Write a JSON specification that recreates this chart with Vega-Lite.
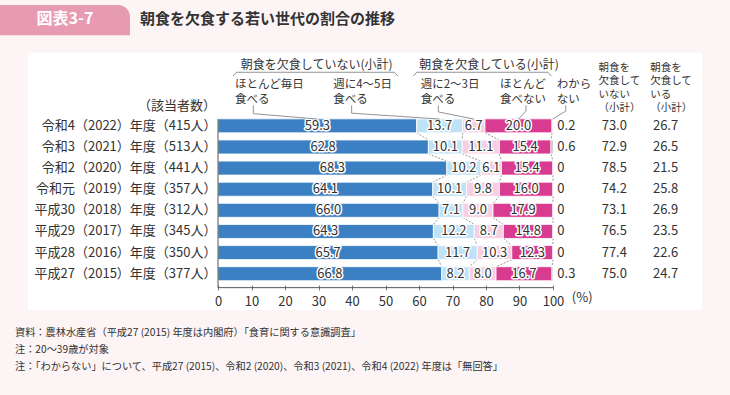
{
  "$schema": "https://vega.github.io/schema/vega-lite/v6.json",
  "width": 730,
  "height": 395,
  "autosize": "none",
  "padding": 0,
  "background": "#fdf4f6",
  "config": {
    "view": {"stroke": null},
    "font": "Noto Sans CJK JP",
    "axisY": {"disable": true}
  },
  "data": {"values": [{}]},
  "datasets": {
    "bars": [
      {"year": "令和4（2022）年度（415人）", "row": 1, "cat": "ほとんど毎日食べる", "k": 1, "value": 59.3},
      {"year": "令和4（2022）年度（415人）", "row": 1, "cat": "週に4～5日食べる", "k": 2, "value": 13.7},
      {"year": "令和4（2022）年度（415人）", "row": 1, "cat": "週に2～3日食べる", "k": 3, "value": 6.7},
      {"year": "令和4（2022）年度（415人）", "row": 1, "cat": "ほとんど食べない", "k": 4, "value": 20.0},
      {"year": "令和4（2022）年度（415人）", "row": 1, "cat": "わからない", "k": 5, "value": 0.2},
      {"year": "令和3（2021）年度（513人）", "row": 2, "cat": "ほとんど毎日食べる", "k": 1, "value": 62.8},
      {"year": "令和3（2021）年度（513人）", "row": 2, "cat": "週に4～5日食べる", "k": 2, "value": 10.1},
      {"year": "令和3（2021）年度（513人）", "row": 2, "cat": "週に2～3日食べる", "k": 3, "value": 11.1},
      {"year": "令和3（2021）年度（513人）", "row": 2, "cat": "ほとんど食べない", "k": 4, "value": 15.4},
      {"year": "令和3（2021）年度（513人）", "row": 2, "cat": "わからない", "k": 5, "value": 0.6},
      {"year": "令和2（2020）年度（441人）", "row": 3, "cat": "ほとんど毎日食べる", "k": 1, "value": 68.3},
      {"year": "令和2（2020）年度（441人）", "row": 3, "cat": "週に4～5日食べる", "k": 2, "value": 10.2},
      {"year": "令和2（2020）年度（441人）", "row": 3, "cat": "週に2～3日食べる", "k": 3, "value": 6.1},
      {"year": "令和2（2020）年度（441人）", "row": 3, "cat": "ほとんど食べない", "k": 4, "value": 15.4},
      {"year": "令和2（2020）年度（441人）", "row": 3, "cat": "わからない", "k": 5, "value": 0},
      {"year": "令和元（2019）年度（357人）", "row": 4, "cat": "ほとんど毎日食べる", "k": 1, "value": 64.1},
      {"year": "令和元（2019）年度（357人）", "row": 4, "cat": "週に4～5日食べる", "k": 2, "value": 10.1},
      {"year": "令和元（2019）年度（357人）", "row": 4, "cat": "週に2～3日食べる", "k": 3, "value": 9.8},
      {"year": "令和元（2019）年度（357人）", "row": 4, "cat": "ほとんど食べない", "k": 4, "value": 16.0},
      {"year": "令和元（2019）年度（357人）", "row": 4, "cat": "わからない", "k": 5, "value": 0},
      {"year": "平成30（2018）年度（312人）", "row": 5, "cat": "ほとんど毎日食べる", "k": 1, "value": 66.0},
      {"year": "平成30（2018）年度（312人）", "row": 5, "cat": "週に4～5日食べる", "k": 2, "value": 7.1},
      {"year": "平成30（2018）年度（312人）", "row": 5, "cat": "週に2～3日食べる", "k": 3, "value": 9.0},
      {"year": "平成30（2018）年度（312人）", "row": 5, "cat": "ほとんど食べない", "k": 4, "value": 17.9},
      {"year": "平成30（2018）年度（312人）", "row": 5, "cat": "わからない", "k": 5, "value": 0},
      {"year": "平成29（2017）年度（345人）", "row": 6, "cat": "ほとんど毎日食べる", "k": 1, "value": 64.3},
      {"year": "平成29（2017）年度（345人）", "row": 6, "cat": "週に4～5日食べる", "k": 2, "value": 12.2},
      {"year": "平成29（2017）年度（345人）", "row": 6, "cat": "週に2～3日食べる", "k": 3, "value": 8.7},
      {"year": "平成29（2017）年度（345人）", "row": 6, "cat": "ほとんど食べない", "k": 4, "value": 14.8},
      {"year": "平成29（2017）年度（345人）", "row": 6, "cat": "わからない", "k": 5, "value": 0},
      {"year": "平成28（2016）年度（350人）", "row": 7, "cat": "ほとんど毎日食べる", "k": 1, "value": 65.7},
      {"year": "平成28（2016）年度（350人）", "row": 7, "cat": "週に4～5日食べる", "k": 2, "value": 11.7},
      {"year": "平成28（2016）年度（350人）", "row": 7, "cat": "週に2～3日食べる", "k": 3, "value": 10.3},
      {"year": "平成28（2016）年度（350人）", "row": 7, "cat": "ほとんど食べない", "k": 4, "value": 12.3},
      {"year": "平成28（2016）年度（350人）", "row": 7, "cat": "わからない", "k": 5, "value": 0},
      {"year": "平成27（2015）年度（377人）", "row": 8, "cat": "ほとんど毎日食べる", "k": 1, "value": 66.8},
      {"year": "平成27（2015）年度（377人）", "row": 8, "cat": "週に4～5日食べる", "k": 2, "value": 8.2},
      {"year": "平成27（2015）年度（377人）", "row": 8, "cat": "週に2～3日食べる", "k": 3, "value": 8.0},
      {"year": "平成27（2015）年度（377人）", "row": 8, "cat": "ほとんど食べない", "k": 4, "value": 16.7},
      {"year": "平成27（2015）年度（377人）", "row": 8, "cat": "わからない", "k": 5, "value": 0.3}
    ],
    "rows": [
      {"row": 1, "year": "令和4（2022）年度（415人）", "notSkip": 73.0, "skip": 26.7},
      {"row": 2, "year": "令和3（2021）年度（513人）", "notSkip": 72.9, "skip": 26.5},
      {"row": 3, "year": "令和2（2020）年度（441人）", "notSkip": 78.5, "skip": 21.5},
      {"row": 4, "year": "令和元（2019）年度（357人）", "notSkip": 74.2, "skip": 25.8},
      {"row": 5, "year": "平成30（2018）年度（312人）", "notSkip": 73.1, "skip": 26.9},
      {"row": 6, "year": "平成29（2017）年度（345人）", "notSkip": 76.5, "skip": 23.5},
      {"row": 7, "year": "平成28（2016）年度（350人）", "notSkip": 77.4, "skip": 22.6},
      {"row": 8, "year": "平成27（2015）年度（377人）", "notSkip": 75.0, "skip": 24.7}
    ]
  },
  "layer": [
    {
      "mark": {"type": "rect", "color": "white"},
      "encoding": {
        "x": {"datum": -56.72, "type": "quantitative"}, "x2": {"datum": 144.48},
        "y": {"datum": -2.461, "type": "quantitative"}, "y2": {"datum": 9.722}
      }
    },
    {
      "mark": {"type": "rect", "color": "#e79bb3", "cornerRadiusTopRight": 12},
      "encoding": {
        "x": {"datum": -65.075, "type": "quantitative"}, "x2": {"datum": -26.27},
        "y": {"datum": -4.722, "type": "quantitative"}, "y2": {"datum": -3.292}
      }
    },
    {
      "mark": {"type": "text", "text": "図表3-7", "fontSize": 16, "fontWeight": "bold", "color": "white", "align": "center", "baseline": "middle"},
      "encoding": {"x": {"datum": -45.67, "type": "quantitative"}, "y": {"datum": -4.053, "type": "quantitative"}}
    },
    {
      "mark": {"type": "text", "text": "朝食を欠食する若い世代の割合の推移", "fontSize": 15, "fontWeight": "bold", "color": "#333", "align": "left", "baseline": "middle"},
      "encoding": {"x": {"datum": -23.28, "type": "quantitative"}, "y": {"datum": -4.053, "type": "quantitative"}}
    },
    {
      "data": {"name": "bars"},
      "transform": [
        {"stack": "value", "groupby": ["row"], "sort": [{"field": "k", "order": "ascending"}], "as": ["x0", "x1"]},
        {"window": [{"op": "lead", "field": "x1", "as": "nx1"}, {"op": "lead", "field": "row", "as": "nrow"}], "groupby": ["k"], "sort": [{"field": "row", "order": "ascending"}]},
        {"filter": "datum.k < 5 && datum.nrow != null"}
      ],
      "mark": {"type": "rule", "strokeDash": [2, 1.5], "color": "#777", "strokeWidth": 0.8, "yOffset": 7, "y2Offset": -7},
      "encoding": {
        "x": {"field": "x1", "type": "quantitative"}, "x2": {"field": "nx1"},
        "y": {"field": "row", "type": "quantitative"}, "y2": {"field": "nrow"}
      }
    },
    {
      "data": {"name": "bars"},
      "layer": [
        {
          "mark": {"type": "bar", "orient": "horizontal", "size": 14, "stroke": "white", "strokeWidth": 0.8},
          "encoding": {
            "x": {
              "field": "value", "type": "quantitative", "stack": "zero",
              "scale": {"domain": [-65.075, 152.836], "range": [0, 730], "nice": false, "zero": false},
              "axis": {"values": [0, 10, 20, 30, 40, 50, 60, 70, 80, 90, 100], "offset": -105, "zindex": 2, "domain": false, "grid": false, "ticks": true, "tickSize": -5, "tickColor": "#555", "tickWidth": 0.8, "labelFontSize": 13, "labelColor": "#333", "labelPadding": 10, "labelFlush": false, "labelOverlap": false, "title": null}
            },
            "y": {
              "field": "row", "type": "quantitative",
              "scale": {"domain": [-4.722, 13.506], "range": [0, 395], "nice": false, "zero": false},
              "axis": null
            },
            "color": {
              "field": "cat", "type": "nominal", "legend": null,
              "scale": {"domain": ["ほとんど毎日食べる", "週に4～5日食べる", "週に2～3日食べる", "ほとんど食べない", "わからない"], "range": ["#3b80c3", "#bfe3f6", "#f6cfe2", "#d83b8f", "#b0b0b0"]}
            },
            "order": {"field": "k", "type": "quantitative"}
          }
        },
        {
          "transform": [{"filter": "datum.k < 5"}],
          "mark": {"type": "text", "fontSize": 13, "color": "white", "stroke": "white", "strokeWidth": 3, "strokeJoin": "round", "align": "center", "baseline": "middle"},
          "encoding": {
            "x": {"field": "value", "type": "quantitative", "stack": "zero", "bandPosition": 0.5},
            "y": {"field": "row", "type": "quantitative"},
            "detail": {"field": "cat"},
            "order": {"field": "k", "type": "quantitative"},
            "text": {"field": "value", "type": "quantitative", "format": ".1f"}
          }
        },
        {
          "transform": [{"filter": "datum.k < 5"}],
          "mark": {"type": "text", "fontSize": 13, "color": "#333", "align": "center", "baseline": "middle"},
          "encoding": {
            "x": {"field": "value", "type": "quantitative", "stack": "zero", "bandPosition": 0.5},
            "y": {"field": "row", "type": "quantitative"},
            "detail": {"field": "cat"},
            "order": {"field": "k", "type": "quantitative"},
            "text": {"field": "value", "type": "quantitative", "format": ".1f"}
          }
        },
        {
          "transform": [{"filter": "datum.k == 5"}],
          "mark": {"type": "text", "fontSize": 13, "color": "#333", "align": "left", "baseline": "middle"},
          "encoding": {
            "x": {"datum": 101.3, "type": "quantitative"},
            "y": {"field": "row", "type": "quantitative"},
            "text": {"field": "value", "type": "quantitative"}
          }
        }
      ]
    },
    {
      "data": {"name": "rows"},
      "layer": [
        {
          "mark": {"type": "text", "fontSize": 13, "color": "#333", "align": "right", "baseline": "middle"},
          "encoding": {
            "x": {"datum": -0.45, "type": "quantitative"},
            "y": {"field": "row", "type": "quantitative"},
            "text": {"field": "year", "type": "nominal"}
          }
        },
        {
          "mark": {"type": "text", "fontSize": 13, "color": "#333", "align": "center", "baseline": "middle"},
          "encoding": {
            "x": {"datum": 118.3, "type": "quantitative"},
            "y": {"field": "row", "type": "quantitative"},
            "text": {"field": "notSkip", "type": "quantitative", "format": ".1f"}
          }
        },
        {
          "mark": {"type": "text", "fontSize": 13, "color": "#333", "align": "center", "baseline": "middle"},
          "encoding": {
            "x": {"datum": 133.6, "type": "quantitative"},
            "y": {"field": "row", "type": "quantitative"},
            "text": {"field": "skip", "type": "quantitative", "format": ".1f"}
          }
        }
      ]
    },
    {
      "mark": {"type": "text", "text": "（該当者数）", "fontSize": 13, "color": "#333", "align": "right", "baseline": "middle"},
      "encoding": {"x": {"datum": -0.6, "type": "quantitative"}, "y": {"datum": 0.077, "type": "quantitative"}}
    },
    {
      "mark": {"type": "text", "text": "朝食を欠食していない(小計)", "fontSize": 12, "color": "#333", "align": "center", "baseline": "middle"},
      "encoding": {"x": {"datum": 29.45, "type": "quantitative"}, "y": {"datum": -1.861, "type": "quantitative"}}
    },
    {
      "mark": {"type": "text", "text": "朝食を欠食している(小計)", "fontSize": 12, "color": "#333", "align": "center", "baseline": "middle"},
      "encoding": {"x": {"datum": 80.9, "type": "quantitative"}, "y": {"datum": -1.861, "type": "quantitative"}}
    },
    {
      "mark": {"type": "text", "text": ["ほとんど毎日", "食べる"], "fontSize": 11.5, "lineHeight": 15.5, "color": "#333", "align": "left", "baseline": "top"},
      "encoding": {"x": {"datum": 5.07, "type": "quantitative"}, "y": {"datum": -1.234, "type": "quantitative"}}
    },
    {
      "mark": {"type": "text", "text": ["週に4～5日", "食べる"], "fontSize": 11.5, "lineHeight": 15.5, "color": "#333", "align": "left", "baseline": "top"},
      "encoding": {"x": {"datum": 34.4, "type": "quantitative"}, "y": {"datum": -1.234, "type": "quantitative"}}
    },
    {
      "mark": {"type": "text", "text": ["週に2～3日", "食べる"], "fontSize": 11.5, "lineHeight": 15.5, "color": "#333", "align": "left", "baseline": "top"},
      "encoding": {"x": {"datum": 60.5, "type": "quantitative"}, "y": {"datum": -1.234, "type": "quantitative"}}
    },
    {
      "mark": {"type": "text", "text": ["ほとんど", "食べない"], "fontSize": 11.5, "lineHeight": 15.5, "color": "#333", "align": "left", "baseline": "top"},
      "encoding": {"x": {"datum": 84.2, "type": "quantitative"}, "y": {"datum": -1.234, "type": "quantitative"}}
    },
    {
      "mark": {"type": "text", "text": ["わから", "ない"], "fontSize": 11.5, "lineHeight": 15.5, "color": "#333", "align": "left", "baseline": "top"},
      "encoding": {"x": {"datum": 101.1, "type": "quantitative"}, "y": {"datum": -1.234, "type": "quantitative"}}
    },
    {
      "mark": {"type": "text", "text": ["朝食を", "欠食して", "いない", "（小計）"], "fontSize": 10.5, "lineHeight": 13.5, "color": "#333", "align": "left", "baseline": "top"},
      "encoding": {"x": {"datum": 113.6, "type": "quantitative"}, "y": {"datum": -1.99, "type": "quantitative"}}
    },
    {
      "mark": {"type": "text", "text": ["朝食を", "欠食して", "いる", "（小計）"], "fontSize": 10.5, "lineHeight": 13.5, "color": "#333", "align": "left", "baseline": "top"},
      "encoding": {"x": {"datum": 129.0, "type": "quantitative"}, "y": {"datum": -1.99, "type": "quantitative"}}
    },
    {"mark": {"type": "rule", "color": "#777", "strokeWidth": 0.8}, "encoding": {"x": {"datum": 4.48, "type": "quantitative"}, "x2": {"datum": 5.5}, "y": {"datum": -1.353, "type": "quantitative"}, "y2": {"datum": -1.538}}},
    {"mark": {"type": "rule", "color": "#777", "strokeWidth": 0.8}, "encoding": {"x": {"datum": 5.5, "type": "quantitative"}, "x2": {"datum": 52.7}, "y": {"datum": -1.538, "type": "quantitative"}, "y2": {"datum": -1.538}}},
    {"mark": {"type": "rule", "color": "#777", "strokeWidth": 0.8}, "encoding": {"x": {"datum": 52.7, "type": "quantitative"}, "x2": {"datum": 53.73}, "y": {"datum": -1.538, "type": "quantitative"}, "y2": {"datum": -1.353}}},
    {"mark": {"type": "rule", "color": "#777", "strokeWidth": 0.8}, "encoding": {"x": {"datum": 58.3, "type": "quantitative"}, "x2": {"datum": 59.3}, "y": {"datum": -1.353, "type": "quantitative"}, "y2": {"datum": -1.538}}},
    {"mark": {"type": "rule", "color": "#777", "strokeWidth": 0.8}, "encoding": {"x": {"datum": 59.3, "type": "quantitative"}, "x2": {"datum": 98.5}, "y": {"datum": -1.538, "type": "quantitative"}, "y2": {"datum": -1.538}}},
    {"mark": {"type": "rule", "color": "#777", "strokeWidth": 0.8}, "encoding": {"x": {"datum": 98.5, "type": "quantitative"}, "x2": {"datum": 99.55}, "y": {"datum": -1.538, "type": "quantitative"}, "y2": {"datum": -1.353}}},
    {"mark": {"type": "rule", "color": "#777", "strokeWidth": 0.8}, "encoding": {"x": {"datum": 10.54, "type": "quantitative"}, "y": {"datum": 0.031, "type": "quantitative"}, "y2": {"datum": 0.423}}},
    {"mark": {"type": "rule", "color": "#777", "strokeWidth": 0.8}, "encoding": {"x": {"datum": 10.54, "type": "quantitative"}, "x2": {"datum": 29.65}, "y": {"datum": 0.423, "type": "quantitative"}, "y2": {"datum": 0.677}}},
    {"mark": {"type": "rule", "color": "#777", "strokeWidth": 0.8}, "encoding": {"x": {"datum": 39.9, "type": "quantitative"}, "y": {"datum": 0.031, "type": "quantitative"}, "y2": {"datum": 0.4}}},
    {"mark": {"type": "rule", "color": "#777", "strokeWidth": 0.8}, "encoding": {"x": {"datum": 39.9, "type": "quantitative"}, "x2": {"datum": 66.15}, "y": {"datum": 0.4, "type": "quantitative"}, "y2": {"datum": 0.677}}},
    {"mark": {"type": "rule", "color": "#777", "strokeWidth": 0.8}, "encoding": {"x": {"datum": 65.76, "type": "quantitative"}, "y": {"datum": 0.031, "type": "quantitative"}, "y2": {"datum": 0.34}}},
    {"mark": {"type": "rule", "color": "#777", "strokeWidth": 0.8}, "encoding": {"x": {"datum": 65.76, "type": "quantitative"}, "x2": {"datum": 76.35}, "y": {"datum": 0.34, "type": "quantitative"}, "y2": {"datum": 0.677}}},
    {"mark": {"type": "rule", "color": "#777", "strokeWidth": 0.8}, "encoding": {"x": {"datum": 91.94, "type": "quantitative"}, "y": {"datum": 0.031, "type": "quantitative"}, "y2": {"datum": 0.3}}},
    {"mark": {"type": "rule", "color": "#777", "strokeWidth": 0.8}, "encoding": {"x": {"datum": 91.94, "type": "quantitative"}, "x2": {"datum": 89.7}, "y": {"datum": 0.3, "type": "quantitative"}, "y2": {"datum": 0.677}}},
    {"mark": {"type": "rule", "color": "#777", "strokeWidth": 0.8}, "encoding": {"x": {"datum": 103.8, "type": "quantitative"}, "y": {"datum": 0.031, "type": "quantitative"}, "y2": {"datum": 0.3}}},
    {"mark": {"type": "rule", "color": "#777", "strokeWidth": 0.8}, "encoding": {"x": {"datum": 103.8, "type": "quantitative"}, "x2": {"datum": 99.9}, "y": {"datum": 0.3, "type": "quantitative"}, "y2": {"datum": 0.677}}},
    {"mark": {"type": "rule", "color": "#555", "strokeWidth": 1}, "encoding": {"x": {"datum": 0, "type": "quantitative"}, "x2": {"datum": 100}, "y": {"datum": 8.66, "type": "quantitative"}}},
    {"mark": {"type": "rule", "color": "#555", "strokeWidth": 1}, "encoding": {"x": {"datum": 0, "type": "quantitative"}, "y": {"datum": 0.68, "type": "quantitative"}, "y2": {"datum": 8.66}}},
    {
      "mark": {"type": "text", "text": "(%)", "fontSize": 13, "color": "#333", "align": "left", "baseline": "middle"},
      "encoding": {"x": {"datum": 105.6, "type": "quantitative"}, "y": {"datum": 9.17, "type": "quantitative"}}
    },
    {
      "mark": {"type": "text", "text": ["資料：農林水産省（平成27 (2015) 年度は内閣府）「食育に関する意識調査」", "注：20～39歳が対象", "注：「わからない」について、平成27 (2015)、令和2 (2020)、令和3 (2021)、令和4 (2022) 年度は「無回答」"], "fontSize": 10.2, "lineHeight": 17, "color": "#333", "align": "left", "baseline": "top"},
      "encoding": {"x": {"datum": -60.6, "type": "quantitative"}, "y": {"datum": 10.585, "type": "quantitative"}}
    }
  ]
}
